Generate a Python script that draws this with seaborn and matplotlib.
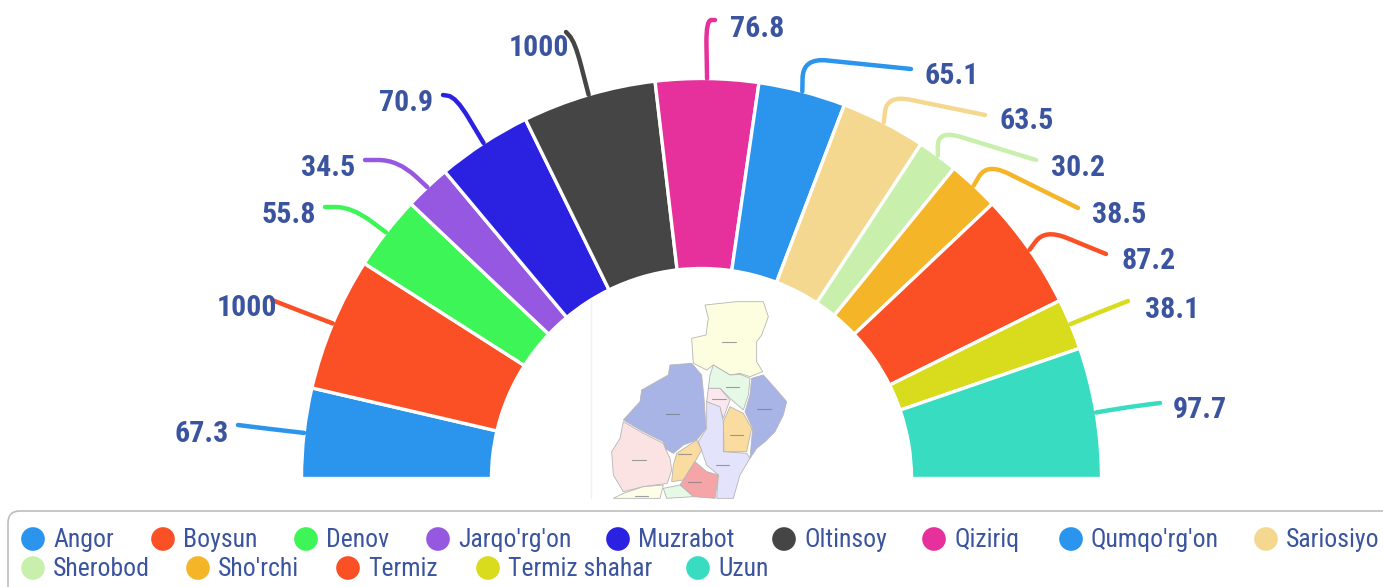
import matplotlib
matplotlib.use("Agg")
import matplotlib.pyplot as plt
from matplotlib.patches import FancyBboxPatch, PathPatch, Rectangle
from matplotlib.path import Path
import numpy as np
import seaborn as sns

# the chart data
districts = ["Angor", "Boysun", "Denov", "Jarqo'rg'on", "Muzrabot", "Oltinsoy", "Qiziriq",
             "Qumqo'rg'on", "Sariosiyo", "Sherobod", "Sho'rchi", "Termiz", "Termiz shahar", "Uzun"]
values = [67.3, 100, 55.8, 34.5, 70.9, 100, 76.8, 65.1, 63.5, 30.2, 38.5, 87.2, 38.1, 97.7]
value_labels = ["67.3", "1000", "55.8", "34.5", "70.9", "1000", "76.8",
                "65.1", "63.5", "30.2", "38.5", "87.2", "38.1", "97.7"]
colors = ["#2b94ec", "#fb5026", "#3df556", "#9658e0", "#2a22e0", "#454545", "#e6309c",
          "#2b94ec", "#f5d88f", "#c8f0ac", "#f5b528", "#fb5026", "#d9dc1c", "#38dcc0"]

# layout in pixels of the picture
label_xy = [(202, 434), (247, 308), (289, 215), (328, 168), (406, 103), (539, 48), (757, 29),
            (952, 76), (1027, 121), (1078, 168), (1119, 215), (1149, 261), (1172, 310), (1200, 410)]
corner_xy = [(270, 429), (300, 311), (352, 207), (398, 160), (456, 97), (575, 42), (706, 20),
             (803, 58), (887, 95), (938, 130), (987, 163), (1045, 229), (1100, 312), (1128, 407)]
line_end_xy = [(238, 425), (272, 300), (325, 207), (365, 160), (443, 95), (566, 32), (715, 20),
               (911, 69), (985, 115), (1036, 160), (1078, 208), (1106, 254), (1128, 301), (1160, 403)]
legend_row1 = [33, 163, 306, 438, 618, 784, 934, 1071, 1266]
legend_row2 = [33, 198, 348, 488, 698]

# the little map in the middle, in pixels of a 3x crop starting at (580, 285)
map_shapes = [
    ("#fdfde0", [(375, 60), (470, 50), (550, 50), (565, 95), (545, 150), (530, 170), (530, 230), (548, 260),
                 (510, 275), (480, 265), (450, 270), (400, 240), (380, 255), (340, 235), (335, 160), (378, 150), (385, 100)]),
    ("#a9b4e6", [(270, 240), (335, 235), (365, 270), (372, 340), (378, 430), (350, 465), (310, 480), (280, 505),
                 (255, 490), (250, 470), (190, 440), (130, 405), (180, 350), (185, 315), (265, 270)]),
    ("#a9b4e6", [(515, 280), (550, 270), (590, 315), (620, 350), (610, 390), (585, 440), (555, 470), (530, 490),
                 (510, 520), (518, 430), (495, 380), (510, 330)]),
    ("#fbe3e3", [(130, 410), (190, 445), (250, 475), (258, 495), (270, 520), (275, 555), (262, 595), (190, 605),
                 (130, 620), (100, 570), (95, 500), (120, 460)]),
    ("#e6f8e6", [(400, 240), (450, 270), (480, 268), (510, 280), (505, 330), (490, 375), (450, 340), (420, 310),
                 (385, 310), (390, 270)]),
    ("#fbe8ee", [(385, 310), (420, 310), (450, 345), (430, 400), (420, 370), (380, 350)]),
    ("#e3e3fb", [(380, 350), (420, 365), (430, 410), (430, 500), (500, 505), (510, 520), (480, 570), (460, 640),
                 (410, 640), (415, 570), (380, 540), (355, 470), (380, 430)]),
    ("#fbdca0", [(450, 365), (490, 385), (515, 430), (500, 500), (432, 500), (430, 410)]),
    ("#fbdca0", [(290, 505), (350, 465), (365, 495), (345, 530), (310, 585), (275, 590), (280, 540)]),
    ("#f5a5a8", [(345, 530), (380, 560), (415, 570), (405, 640), (340, 635), (300, 600), (310, 585)]),
    ("#e6f8e6", [(250, 610), (300, 600), (340, 635), (260, 640)]),
    ("#fdfde8", [(130, 625), (190, 605), (250, 600), (240, 640), (100, 640)]),
]
map_names = [(447, 172), (277, 387), (552, 371), (177, 526), (458, 306), (417, 342),
             (470, 451), (313, 507), (427, 541), (343, 590), (185, 632)]

center_x, center_y = 701.5, 478.5
outer_r, inner_r = 400, 210
text_blue = "#3b549f"
narrow = ["Roboto Condensed", "Barlow Condensed", "Roboto", "DejaVu Sans"]
corner_size = 24

sns.set_theme(style="white")
palette = sns.color_palette(colors)

fig = plt.figure(figsize=(13.83, 5.87), dpi=100)
ax = fig.add_axes([0, 0, 1, 1])

# half donut, y axis is flipped below so this opens over the top
shares = np.array(values) / (2 * sum(values))
wedges, _ = ax.pie(shares, colors=palette, normalize=False, startangle=180, center=(center_x, center_y),
                   radius=outer_r, wedgeprops={"width": outer_r - inner_r, "edgecolor": "white", "linewidth": 2.4})
ax.set_aspect("equal")
ax.axis("off")

# leader lines with a rounded corner, and the value labels
for i, wedge in enumerate(wedges):
    mid = np.radians((wedge.theta1 + wedge.theta2) / 2)
    start = np.array([center_x + outer_r * np.cos(mid), center_y + outer_r * np.sin(mid)])
    corner = np.array(corner_xy[i], dtype=float)
    end = np.array(line_end_xy[i], dtype=float)
    before = corner + (start - corner) * min(corner_size / np.linalg.norm(start - corner), 0.6)
    after = corner + (end - corner) * min(corner_size / np.linalg.norm(end - corner), 0.6)
    path = Path([start, before, corner, after, end],
                [Path.MOVETO, Path.LINETO, Path.CURVE3, Path.CURVE3, Path.LINETO])
    ax.add_patch(PathPatch(path, fill=False, edgecolor=palette[i], linewidth=3.2, capstyle="round", zorder=3))
    ax.text(label_xy[i][0], label_xy[i][1], value_labels[i], family=narrow, fontsize=21.5, fontweight="bold",
            color=text_blue, ha="center", va="center", zorder=4)

# white card behind the map
ax.add_patch(Rectangle((591, 299), 214, 199, facecolor="white", edgecolor="none", zorder=4))
ax.plot([591, 591], [299, 498], color="#f1f1f4", linewidth=1, zorder=4)
for fill_color, shape in map_shapes:
    xs = [580 + p[0] / 3 for p in shape]
    ys = [285 + p[1] / 3 for p in shape]
    ax.fill(xs, ys, facecolor=fill_color, edgecolor="#b5b5b5", linewidth=0.6, zorder=5)
for x, y in map_names:
    ax.plot([580 + (x - 20) / 3, 580 + (x + 20) / 3], [285 + y / 3, 285 + y / 3], color="#77777f",
            linewidth=0.8, alpha=0.7, zorder=6)

# legend box, it runs off the right side of the picture
ax.add_patch(FancyBboxPatch((20, 523), 1380, 80, boxstyle="round,pad=12,rounding_size=12",
                            facecolor="white", edgecolor="#bdbdbd", linewidth=1.2, zorder=1))

legend_x = legend_row1 + legend_row2
legend_y = [539] * len(legend_row1) + [568] * len(legend_row2)
sns.scatterplot(x=legend_x, y=legend_y, hue=districts, palette=colors, s=290, linewidth=0, legend=False, ax=ax, zorder=3)
for name, x, y in zip(districts, legend_x, legend_y):
    ax.text(x + 20, y + 1, name, family=narrow, fontsize=18.5, color=text_blue, ha="left", va="center", zorder=4)

ax.set_xlim(0, 1383)
ax.set_ylim(587, 0)

fig.savefig("out.png", dpi=100)
